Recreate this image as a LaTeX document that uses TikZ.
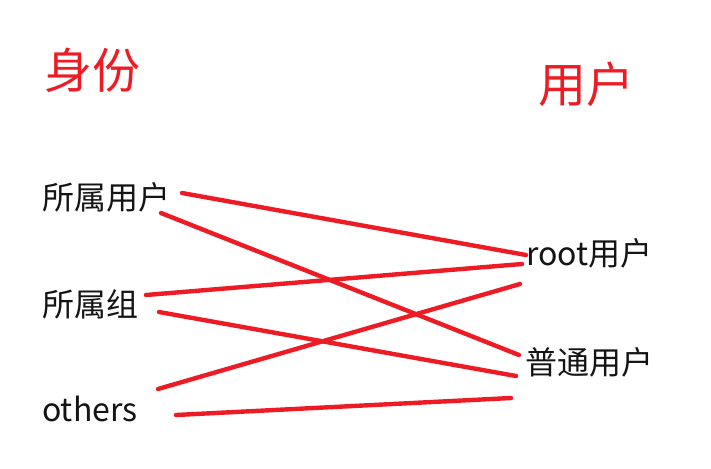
\documentclass[tikz,border=0pt]{standalone}
\usepackage{fontspec}
\setmainfont{Noto Sans CJK SC}
\definecolor{penred}{RGB}{237,28,36}
\definecolor{ink}{RGB}{20,20,20}
\begin{document}
\begin{tikzpicture}[x=1pt,y=-1pt,
  title/.style={anchor=west,inner sep=0pt,text=penred,font=\fontsize{48}{52}\selectfont},
  lab/.style={anchor=west,inner sep=0pt,text=ink,font=\fontsize{32}{36}\selectfont},
  link/.style={draw=penred,line width=4.4pt,line cap=round}]
\useasboundingbox (0,0) rectangle (711,468);
\node[title] (t1) at (44,70) {身份};
\node[title] (t2) at (538,84) {用户};
\node[lab] (own) at (42,197) {所属用户};
\node[lab] (grp) at (42,304) {所属组};
\node[lab] (oth) at (42,409) {others};
\node[lab] (root) at (526,253) {root用户};
\node[lab] (norm) at (525,362) {普通用户};
\coordinate (o1) at (182,193);
\coordinate (o2) at (161,213);
\coordinate (g1) at (146,295);
\coordinate (g2) at (159,312);
\coordinate (x1) at (158,389);
\coordinate (x2) at (176,415);
\coordinate (r1) at (526,255);
\coordinate (r2) at (522,264);
\coordinate (r3) at (520,284);
\coordinate (n1) at (519,355);
\coordinate (n2) at (516,376);
\coordinate (n3) at (511,398);
\draw[link] (o1) -- (r1);
\draw[link] (o2) -- (n1);
\draw[link] (g1) -- (r2);
\draw[link] (g2) -- (n2);
\draw[link] (x1) -- (r3);
\draw[link] (x2) -- (n3);
\end{tikzpicture}
\end{document}
